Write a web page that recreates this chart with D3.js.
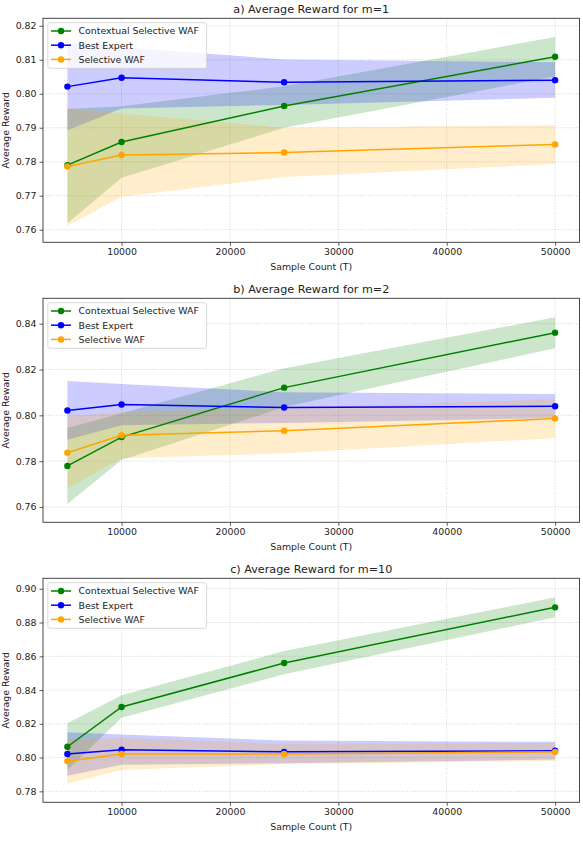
<!DOCTYPE html>
<html>
<head>
<meta charset="utf-8">
<script src="https://cdn.jsdelivr.net/npm/d3@7"></script>
<style>
body{margin:0;background:#fff;}
text{font-family:"DejaVu Sans",sans-serif;fill:#222;}
</style>
</head>
<body>
<div id="chart"></div>
<script>
//sample counts on x
const sampleCounts=[5000,10000,25000,50000];
const xTicks=[10000,20000,30000,40000,50000];
const seriesNames=[`Contextual Selective WAF`,`Best Expert`,`Selective WAF`];

//best expert is the same in every panel
const expertMean=[0.8021,0.8047,0.8034,0.8040];
const expertLow=[0.7893,0.7957,0.7967,0.7988];
const expertHigh=[0.8150,0.8137,0.8101,0.8093];

//m=1
const ctxMeanM1=[0.7790,0.7858,0.7964,0.8109];
const ctxLowM1=[0.7619,0.7753,0.7900,0.8051];
const ctxHighM1=[0.7955,0.7963,0.8022,0.8167];
const selMeanM1=[0.7786,0.7820,0.7827,0.7851];
const selLowM1=[0.7612,0.7697,0.7755,0.7793];
const selHighM1=[0.7958,0.7942,0.7900,0.7908];

//m=2
const ctxMeanM2=[0.7779,0.7905,0.8121,0.8361];
const ctxLowM2=[0.7613,0.7805,0.8036,0.8293];
const ctxHighM2=[0.7945,0.8009,0.8206,0.8428];
const selMeanM2=[0.7837,0.7913,0.7933,0.7986];
const selLowM2=[0.7681,0.7813,0.7834,0.7901];
const selHighM2=[0.7994,0.8013,0.8032,0.8070];

//m=10
const ctxMeanM10=[0.8064,0.8300,0.8560,0.8890];
const ctxLowM10=[0.7926,0.8236,0.8493,0.8831];
const ctxHighM10=[0.8203,0.8369,0.8631,0.8949];
const selMeanM10=[0.7978,0.8021,0.8021,0.8033];
const selLowM10=[0.7847,0.7926,0.7962,0.7979];
const selHighM10=[0.8109,0.8116,0.8080,0.8087];

const titles=[`a) Average Reward for m=1`,`b) Average Reward for m=2`,`c) Average Reward for m=10`];
const yTicksM1=[0.76,0.77,0.78,0.79,0.80,0.81,0.82];
const yTicksM2=[0.76,0.78,0.80,0.82,0.84];
const yTicksM10=[0.78,0.80,0.82,0.84,0.86,0.88,0.90];

let Setting={
    color:[`#008000`,`#0000ff`,`#ffa500`],
    font:9.4,
    width:583,
    height:846,
    panelHeight:280,
    margin:{left:43,right:3.5,top:18.3,bottom:37.7}
};

let Panel={
    //build series list for one panel
    formatData(ctx,sel){
        let list=[
            {mean:ctx[0],low:ctx[1],high:ctx[2]},
            {mean:expertMean,low:expertLow,high:expertHigh},
            {mean:sel[0],low:sel[1],high:sel[2]}
        ];
        return list.map((s,i)=>({
            name:seriesNames[i],
            color:Setting.color[i],
            values:sampleCounts.map((t,j)=>({t:t,mean:s.mean[j],low:s.low[j],high:s.high[j]}))
        }));
    },
    draw(svg,index,series,yDomain,yTicks,yFormat){
        let w=Setting.width-Setting.margin.left-Setting.margin.right;
        let h=Setting.panelHeight-Setting.margin.top-Setting.margin.bottom;
        let g=svg.append(`g`)
            .attr(`transform`,`translate(${Setting.margin.left},${index*Setting.panelHeight+Setting.margin.top})`);

        let x=d3.scaleLinear().domain([2750,52250]).range([0,w]);
        let y=d3.scaleLinear().domain(yDomain).range([h,0]);

        //grid
        g.append(`g`).selectAll(`line`).data(xTicks).enter().append(`line`)
            .attr(`x1`,d=>x(d)).attr(`x2`,d=>x(d)).attr(`y1`,0).attr(`y2`,h)
            .attr(`stroke`,`#c8c8c8`).attr(`stroke-width`,0.8).attr(`stroke-dasharray`,`1,1.6`);
        g.append(`g`).selectAll(`line`).data(yTicks).enter().append(`line`)
            .attr(`x1`,0).attr(`x2`,w).attr(`y1`,d=>y(d)).attr(`y2`,d=>y(d))
            .attr(`stroke`,`#c8c8c8`).attr(`stroke-width`,0.8).attr(`stroke-dasharray`,`1,1.6`);

        //bands
        let area=d3.area().x(d=>x(d.t)).y0(d=>y(d.low)).y1(d=>y(d.high));
        g.append(`g`).selectAll(`path`).data(series).enter().append(`path`)
            .attr(`d`,d=>area(d.values))
            .attr(`fill`,d=>d.color)
            .attr(`fill-opacity`,0.2);

        //lines and dots
        let line=d3.line().x(d=>x(d.t)).y(d=>y(d.mean));
        series.forEach(s=>{
            g.append(`path`).attr(`d`,line(s.values))
                .attr(`fill`,`none`).attr(`stroke`,s.color).attr(`stroke-width`,1.5);
            g.append(`g`).selectAll(`circle`).data(s.values).enter().append(`circle`)
                .attr(`cx`,d=>x(d.t)).attr(`cy`,d=>y(d.mean)).attr(`r`,3.2)
                .attr(`fill`,s.color);
        });

        //axes
        let xAxis=g.append(`g`).attr(`transform`,`translate(0,${h})`)
            .call(d3.axisBottom(x).tickValues(xTicks).tickFormat(d3.format(`d`)).tickSize(3.5).tickPadding(3));
        let yAxis=g.append(`g`)
            .call(d3.axisLeft(y).tickValues(yTicks).tickFormat(d3.format(yFormat)).tickSize(3.5).tickPadding(3));
        [xAxis,yAxis].forEach(a=>{
            a.select(`.domain`).remove();
            a.selectAll(`line`).attr(`stroke`,`#333`).attr(`stroke-width`,0.8);
            a.selectAll(`text`).style(`font-size`,`${Setting.font}px`).attr(`fill`,`#222`);
        });
        g.append(`rect`).attr(`width`,w).attr(`height`,h)
            .attr(`fill`,`none`).attr(`stroke`,`#333`).attr(`stroke-width`,0.9);

        //labels
        g.append(`text`).attr(`x`,w/2).attr(`y`,-5.3)
            .attr(`text-anchor`,`middle`).style(`font-size`,`11.2px`).text(titles[index]);
        g.append(`text`).attr(`x`,w/2).attr(`y`,h+27.7)
            .attr(`text-anchor`,`middle`).style(`font-size`,`${Setting.font}px`).text(`Sample Count (T)`);
        g.append(`text`).attr(`transform`,`translate(-34,${h/2}) rotate(-90)`)
            .attr(`text-anchor`,`middle`).style(`font-size`,`${Setting.font}px`).text(`Average Reward`);

        this.drawLegend(g,series);
    },
    //legend box in upper left corner
    drawLegend(g,series){
        let lg=g.append(`g`).attr(`transform`,`translate(4.8,4.4)`);
        lg.append(`rect`).attr(`width`,158.8).attr(`height`,45.6).attr(`rx`,2)
            .attr(`fill`,`#fff`).attr(`fill-opacity`,0.8)
            .attr(`stroke`,`#d0d0d0`).attr(`stroke-width`,0.8);
        let row=lg.selectAll(`.row`).data(series).enter().append(`g`)
            .attr(`class`,`row`)
            .attr(`transform`,(d,i)=>`translate(0,${8.3+i*14.2})`);
        row.append(`line`).attr(`x1`,3.2).attr(`x2`,23.2)
            .attr(`stroke`,d=>d.color).attr(`stroke-width`,1.5);
        row.append(`circle`).attr(`cx`,13.2).attr(`r`,3.2).attr(`fill`,d=>d.color);
        row.append(`text`).attr(`x`,30.7).attr(`y`,3.4)
            .style(`font-size`,`${Setting.font}px`).text(d=>d.name);
    }
};

let svg=d3.select(`#chart`).append(`svg`)
    .attr(`width`,Setting.width).attr(`height`,Setting.height);

Panel.draw(svg,0,Panel.formatData([ctxMeanM1,ctxLowM1,ctxHighM1],[selMeanM1,selLowM1,selHighM1]),[0.7563,0.8222],yTicksM1,`.2f`);
Panel.draw(svg,1,Panel.formatData([ctxMeanM2,ctxLowM2,ctxHighM2],[selMeanM2,selLowM2,selHighM2]),[0.7533,0.8511],yTicksM2,`.2f`);
Panel.draw(svg,2,Panel.formatData([ctxMeanM10,ctxLowM10,ctxHighM10],[selMeanM10,selLowM10,selHighM10]),[0.7735,0.9062],yTicksM10,`.2f`);
</script>
</body>
</html>
